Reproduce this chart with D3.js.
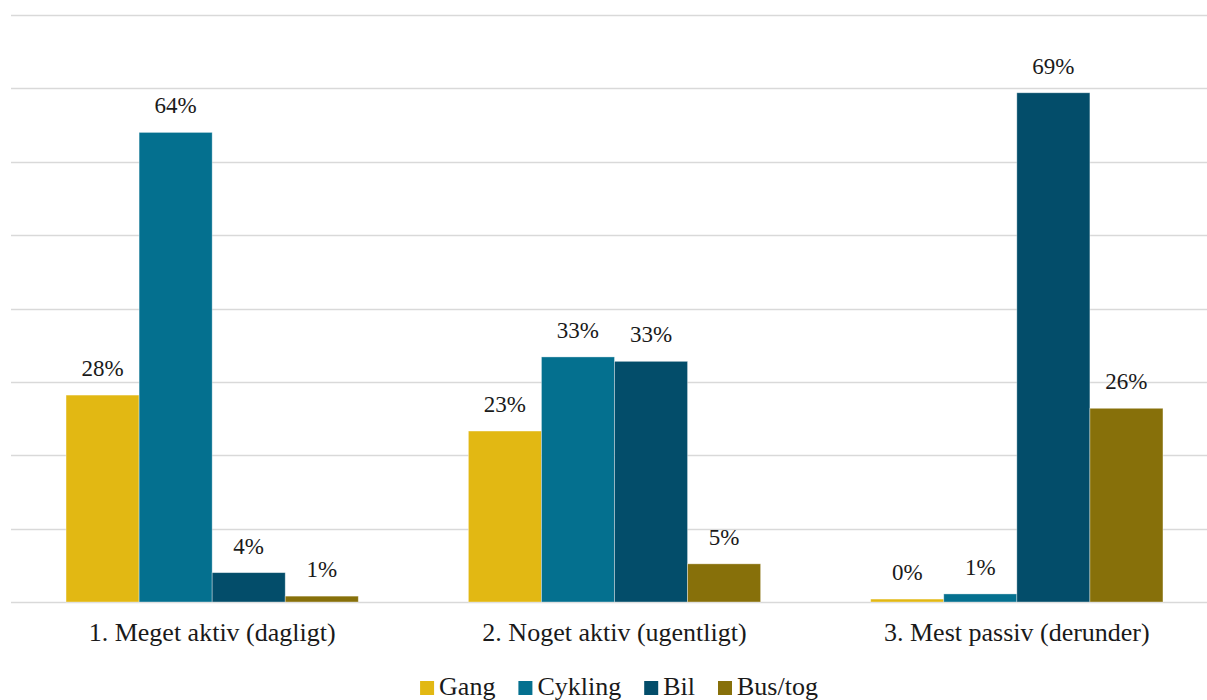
<!DOCTYPE html>
<html>
<head>
<meta charset="utf-8">
<script src="https://cdn.jsdelivr.net/npm/d3@7"></script>
<style>
  html, body { margin: 0; padding: 0; background: #fff; }
  svg { display: block; }
</style>
</head>
<body>
<svg id="chart" width="1207" height="700"></svg>
<script>
// Activity groups along the x axis
const categories = ["1. Meget aktiv (dagligt)", "2. Noget aktiv (ugentligt)", "3. Mest passiv (derunder)"];
// Transport modes (series)
const series = ["Gang", "Cykling", "Bil", "Bus/tog"];
const seriesColors = ["#E2B813", "#04708F", "#034D6A", "#87700A"];
// Share (%) per mode within each group
const gang    = [28.2, 23.3, 0.4];
const cykling = [64.0, 33.4, 1.1];
const bil     = [4.0, 32.8, 69.4];
const busTog  = [0.8, 5.2, 26.4];
const yTicks  = [0, 10, 20, 30, 40, 50, 60, 70, 80];

const values = [gang, cykling, bil, busTog];
const FONT = '"Liberation Serif", "Times New Roman", serif';
const INK = "#1a1a1a";

const svg = d3.select("#chart");
const plot = { left: 11, right: 1218, top: 15, bottom: 602 };

const x0 = d3.scaleBand().domain(categories).range([plot.left, plot.right]).paddingInner(0.2736).paddingOuter(0.1368);
const x1 = d3.scaleBand().domain(series).range([0, x0.bandwidth()]).padding(0);
const y = d3.scaleLinear().domain([0, 80]).range([plot.bottom, plot.top]);

// Horizontal gridlines
svg.append("g").selectAll("line").data(yTicks).join("line")
  .attr("x1", plot.left).attr("x2", plot.right)
  .attr("y1", d => Math.round(y(d)) + 0.5).attr("y2", d => Math.round(y(d)) + 0.5)
  .attr("stroke", "#d9d9d9").attr("stroke-width", 1.5);

// Bars
const groups = svg.append("g").selectAll("g").data(categories).join("g")
  .attr("transform", d => `translate(${x0(d)},0)`);

groups.selectAll("rect")
  .data((c, ci) => series.map((s, si) => ({ s, si, v: values[si][ci] })))
  .join("rect")
  .attr("x", d => x1(d.s))
  .attr("width", x1.bandwidth())
  .attr("y", d => y(d.v))
  .attr("height", d => y(0) - y(d.v))
  .attr("fill", d => seriesColors[d.si])
  .attr("stroke", "rgba(255,255,255,0.45)")
  .attr("stroke-width", 0.8);

// Value labels
groups.selectAll("text.val")
  .data((c, ci) => series.map((s, si) => ({ s, si, v: values[si][ci] })))
  .join("text")
  .attr("class", "val")
  .attr("x", d => x1(d.s) + x1.bandwidth() / 2)
  .attr("y", d => y(d.v) - 19)
  .attr("text-anchor", "middle")
  .style("font-family", FONT)
  .style("font-size", "23px")
  .style("fill", INK)
  .text(d => Math.round(d.v) + "%");

// Category axis labels
const xAxis = d3.axisBottom(x0).tickSize(0).tickPadding(0);
const axisG = svg.append("g").attr("transform", `translate(0,${plot.bottom})`).call(xAxis);
axisG.select(".domain").remove();
axisG.selectAll("text")
  .attr("dy", null).attr("y", 39)
  .style("font-family", FONT)
  .style("font-size", "26px")
  .style("fill", INK);

// Legend
const legend = svg.append("g");
let lx = 0;
series.forEach((s, i) => {
  const g = legend.append("g").attr("transform", `translate(${lx},0)`);
  g.append("rect").attr("x", 0).attr("y", -14).attr("width", 14).attr("height", 14).attr("fill", seriesColors[i]);
  const t = g.append("text").attr("x", 19).attr("y", 0)
    .style("font-family", FONT).style("font-size", "26px").style("fill", INK)
    .text(s);
  const w = t.node().getComputedTextLength();
  lx += 19 + w + 23;
});
const legendWidth = lx - 23;
legend.attr("transform", `translate(${(418 + 820) / 2 - legendWidth / 2},695)`);
</script>
</body>
</html>
